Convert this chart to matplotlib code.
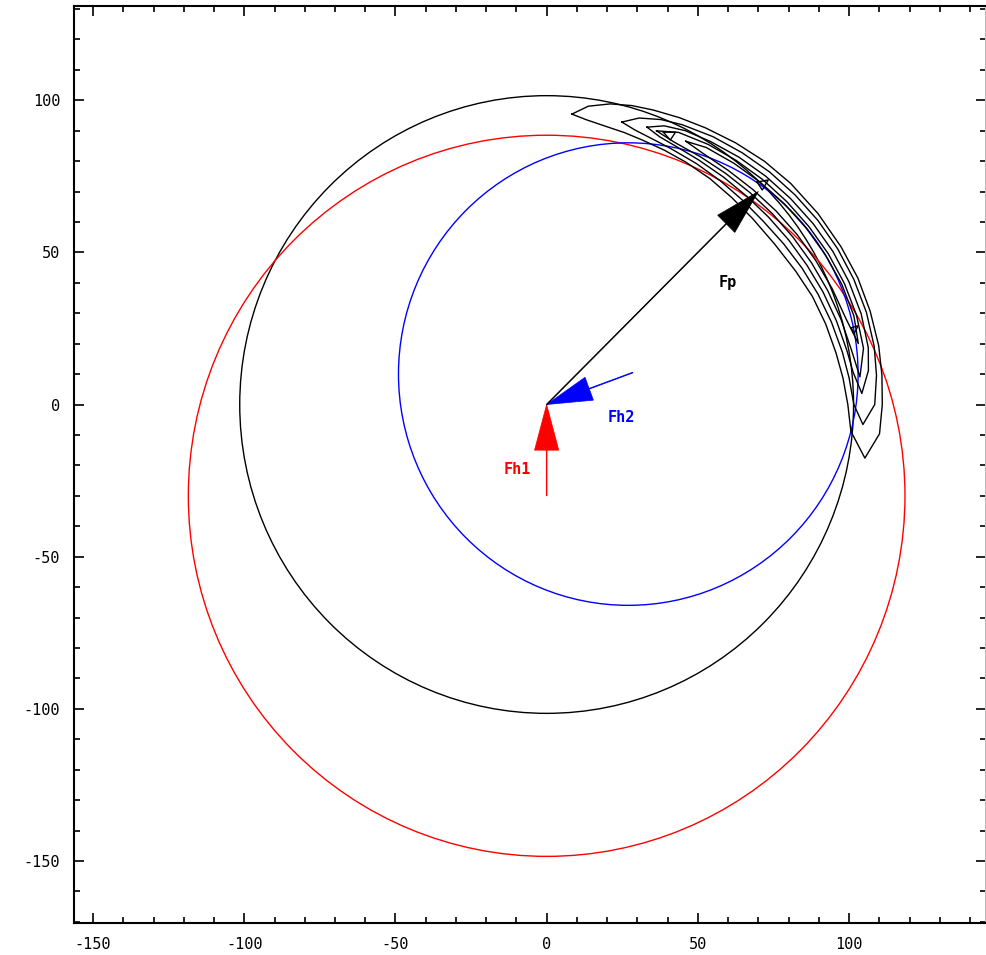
import numpy as np
import matplotlib.pyplot as plt
from matplotlib.patches import Circle

plt.rcParams['font.family'] = ['DejaVu Sans Mono']
plt.rcParams['axes.unicode_minus'] = False

# circles: centre x, centre y, radius, colour
circle_cx = [0, 0, 27]
circle_cy = [0, -30, 10]
circle_r = [101.5, 118.5, 76]
circle_col = ['black', 'red', 'blue']

# force vectors: tail -> tip
arrow_names = ['Fh1', 'Fh2', 'Fp']
arrow_x0 = [0, 28.5, 0]
arrow_y0 = [-30, 10.5, 0]
arrow_x1 = [0, 0, 70]
arrow_y1 = [0, 0, 70]
arrow_col = ['red', 'blue', 'black']
label_x = [-9.7, 24.6, 60]
label_y = [-21.2, -4.3, 40]

# contour bands (angle in degrees, outer / inner radius)
c1_theta = [85, 82, 78, 74, 70, 65, 60, 54, 48, 42, 35, 28, 22, 16, 10, 5, 0, -5, -9.5]
c1_out = [95.8, 99, 101, 102.2, 103, 104, 105, 106.3, 107.6, 108.6, 109.5, 110.3,
          111, 111.3, 111.5, 111.3, 111, 110.5, 106.7]
c1_in = [95.8, 94.5, 93.5, 93, 92.5, 92.2, 92, 91.8, 91.5, 91.5, 92, 93.3,
         94.8, 96, 97.2, 98.4, 99.6, 101, 106.7]

c2_theta = [75, 72, 68, 64, 58, 52, 46, 40, 34, 28, 22, 16, 10, 5, 0, -3.6]
c2_out = [96.1, 99, 101, 102.3, 103.8, 105, 106.2, 107.2, 108.2, 109, 109.6,
          110, 110, 109.5, 108.5, 104.8]
c2_in = [96.1, 94.8, 94, 93.6, 93.4, 93.3, 93.3, 93.6, 94.5, 95.6, 96.8,
         98, 99.3, 100.4, 101.6, 104.8]

c3_theta = [70, 67, 63, 58, 52, 46, 40, 34, 28, 22, 16, 10, 6, 2]
c3_out = [97, 99.5, 101, 102, 103.2, 104.3, 105.3, 106.3, 107.2, 107.8, 108.2,
          108, 107, 104.3]
c3_in = [97, 95.6, 95, 94.8, 94.9, 95.2, 95.8, 96.6, 97.5, 98.6, 99.7,
         100.9, 101.9, 104.3]

c4_theta = [68, 64, 58, 52, 46, 40, 34, 28, 22, 16, 10, 5]
c4_out = [97, 99.5, 100.8, 101.8, 102.8, 103.7, 104.6, 105.5, 106.2, 106.6,
          106.4, 104]
c4_in = [97, 96, 96, 96.3, 96.8, 97.5, 98.3, 99.2, 100.2, 101.3, 102.4, 104]

c5_theta = [62, 58, 52, 46, 40, 34, 28, 22, 16, 11]
c5_out = [98, 99.6, 100.6, 101.6, 102.6, 103.6, 104.5, 105.3, 105.7, 105]
c5_in = [98, 97.4, 97.6, 98.2, 99, 99.9, 100.8, 101.8, 102.9, 105]

# small peaks (triangles)
peak1_x = [38.6, 42.6, 40.9]
peak1_y = [89.5, 89.5, 86.9]
peak2_x = [69.6, 73.3, 71.3]
peak2_y = [73.1, 73.8, 70.5]
peak3_x = [100.7, 103.0, 101.7]
peak3_y = [25.2, 25.9, 23.3]


def band_outline(theta, r_out, r_in):
    t = np.radians(np.concatenate([theta, theta[::-1], theta[:1]]))
    r = np.concatenate([r_out, r_in[::-1], r_out[:1]])
    return r * np.cos(t), r * np.sin(t)


fig = plt.figure(figsize=(9.87, 9.55), dpi=100)
ax = fig.add_axes([0.075, 0.0335, 0.924, 0.960])

for cx, cy, r, c in zip(circle_cx, circle_cy, circle_r, circle_col):
    ax.add_patch(Circle((cx, cy), r, fill=False, ec=c, lw=1.0))

bands = [(c1_theta, c1_out, c1_in), (c2_theta, c2_out, c2_in),
         (c3_theta, c3_out, c3_in), (c4_theta, c4_out, c4_in),
         (c5_theta, c5_out, c5_in)]
for th, ro, ri in bands:
    xs, ys = band_outline(np.array(th, float), np.array(ro, float), np.array(ri, float))
    ax.plot(xs, ys, color='black', lw=1.0)

for px, py in [(peak1_x, peak1_y), (peak2_x, peak2_y), (peak3_x, peak3_y)]:
    ax.plot(px + px[:1], py + py[:1], color='black', lw=1.0)

for i in range(3):
    dx = arrow_x1[i] - arrow_x0[i]
    dy = arrow_y1[i] - arrow_y0[i]
    ax.arrow(arrow_x0[i], arrow_y0[i], dx, dy, width=0.25, head_width=8,
             head_length=15, length_includes_head=True,
             fc=arrow_col[i], ec=arrow_col[i], lw=0.5, zorder=5)
    ax.text(label_x[i], label_y[i], arrow_names[i], color=arrow_col[i],
            fontsize=11, fontweight='bold', ha='center', va='center')

ax.set_xlim(-156.3, 145.3)
ax.set_ylim(-170.4, 130.9)
ax.set_xticks([-150, -100, -50, 0, 50, 100])
ax.set_yticks([-150, -100, -50, 0, 50, 100])
ax.set_xticks(np.arange(-150, 141, 10), minor=True)
ax.set_yticks(np.arange(-170, 131, 10), minor=True)
ax.tick_params(which='both', direction='in', top=True, right=True,
               labelsize=11, width=1.2, pad=10)
ax.tick_params(which='major', length=7)
ax.tick_params(which='minor', length=4)
for s in ax.spines.values():
    s.set_linewidth(1.5)
ax.spines['right'].set_color('#bbbbbb')

fig.savefig('out.png', dpi=100)
